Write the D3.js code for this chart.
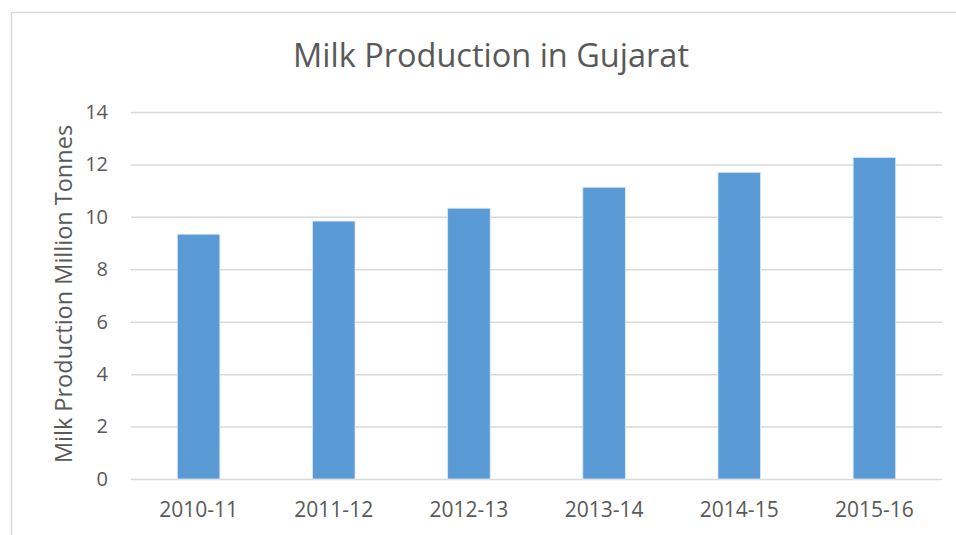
<!DOCTYPE html>
<html>
<head>
<meta charset="utf-8">
<script src="https://cdn.jsdelivr.net/npm/d3@7"></script>
<style>
  body { margin: 0; background: #fff; }
  text { font-family: "Open Sans", "Noto Sans", sans-serif; fill: #595959; }
</style>
</head>
<body>
<div id="chart"></div>
<script>
// data
const years = ['2010-11', '2011-12', '2012-13', '2013-14', '2014-15', '2015-16'];
const milkProduction = [9.34, 9.84, 10.33, 11.13, 11.70, 12.27];
const yTicks = [0, 2, 4, 6, 8, 10, 12, 14];

const config = {
  width: 956,
  height: 535,
  margin: {top: 112, right: 14, bottom: 56, left: 131}
};

const innerW = config.width - config.margin.left - config.margin.right;
const innerH = config.height - config.margin.top - config.margin.bottom;

const svg = d3.select('#chart').append('svg')
    .attr('width', config.width)
    .attr('height', config.height);

// chart area border (cropped at right and bottom)
svg.append('rect')
    .attr('x', 11.5)
    .attr('y', 12.5)
    .attr('width', 960)
    .attr('height', 540)
    .attr('fill', 'none')
    .attr('stroke', '#d9d9d9')
    .attr('stroke-width', 1.5);

const chart = svg.append('g')
    .attr('transform', `translate(${config.margin.left},${config.margin.top})`);

const xScale = d3.scaleBand()
    .domain(years)
    .range([0, innerW])
    .padding(0);

const yScale = d3.scaleLinear()
    .domain([0, 14])
    .range([innerH, 0]);

// gridlines + y labels
const yAxis = d3.axisLeft(yScale)
    .tickValues(yTicks)
    .tickSize(-innerW)
    .tickPadding(23);

chart.append('g')
    .attr('class', 'y-axis')
    .call(yAxis)
    .call(g => g.select('.domain').remove())
    .call(g => g.selectAll('line').attr('stroke', '#d9d9d9').attr('stroke-width', 1.5))
    .call(g => g.selectAll('text').style('font-size', '20px').attr('fill', '#595959'));

// bars
const barW = xScale.bandwidth() * 0.315;
chart.selectAll('.bar')
    .data(years)
    .join('rect')
    .attr('class', 'bar')
    .attr('x', (d) => xScale(d) + (xScale.bandwidth() - barW) / 2)
    .attr('y', (d, i) => yScale(milkProduction[i]))
    .attr('width', barW)
    .attr('height', (d, i) => innerH - yScale(milkProduction[i]))
    .attr('fill', '#5b9bd5')
    .attr('stroke', '#deebf7')
    .attr('stroke-width', 0.8);

// x axis labels only
const xAxis = d3.axisBottom(xScale)
    .tickSize(0)
    .tickPadding(23);

chart.append('g')
    .attr('class', 'x-axis')
    .attr('transform', `translate(0,${innerH})`)
    .call(xAxis)
    .call(g => g.select('.domain').remove())
    .call(g => g.selectAll('text').style('font-size', '21px').attr('fill', '#595959'));

// title
svg.append('text')
    .attr('x', 491)
    .attr('y', 67)
    .attr('text-anchor', 'middle')
    .style('font-size', '32.5px')
    .text('Milk Production in Gujarat');

// y axis title
svg.append('text')
    .attr('transform', 'translate(72,294) rotate(-90)')
    .attr('text-anchor', 'middle')
    .style('font-size', '23.5px')
    .text('Milk Production Million Tonnes');
</script>
</body>
</html>
